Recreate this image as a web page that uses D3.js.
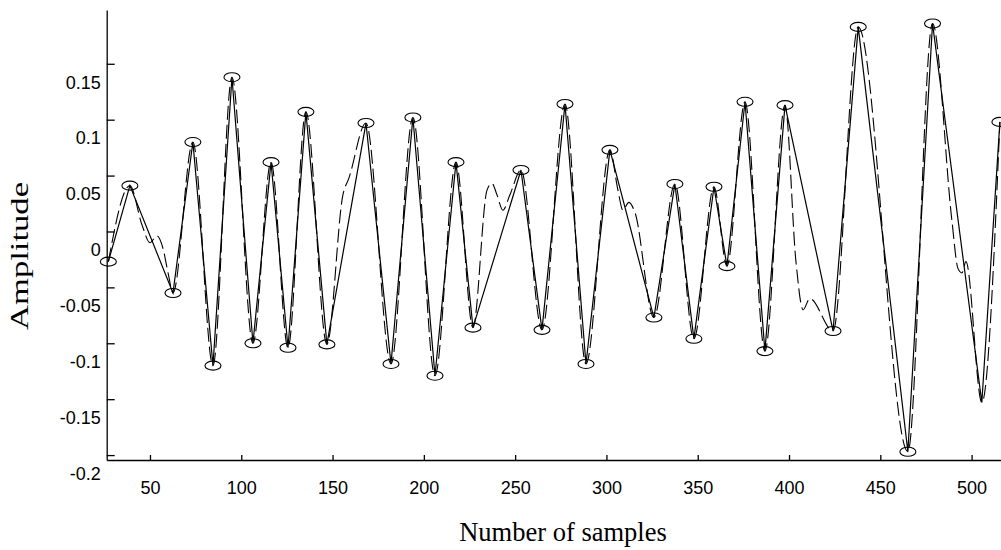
<!DOCTYPE html>
<html lang="en">
<head>
<meta charset="UTF-8">
<title>Amplitude vs number of samples</title>
<script src="https://d3js.org/d3.v7.min.js"></script>
<style>
    body { margin: 0; background: #fff; }
    .tick text { font-family: "Liberation Sans", Arial, sans-serif; font-size: 18px; fill: #000; }
    .title { font-family: "Liberation Serif", "Times New Roman", serif; font-size: 26.5px; fill: #000; }
</style>
</head>
<body>
<script>
// extrema picked from the signal (circles + solid line)
const peakSamples = [27.2, 39.0, 62.6, 73.5, 84.5, 94.9, 106.4, 116.3, 125.6, 135.4, 146.9, 168.3, 182.0, 194.0,
    206.1, 217.6, 226.9, 253.2, 264.7, 277.3, 288.8, 301.9, 326.0, 337.5, 347.9, 358.9, 366.0, 375.9, 386.8,
    397.8, 424.1, 437.9, 465.1, 478.6, 505.6, 515.5];
const peakValues = [-0.027, 0.041, -0.055, 0.080, -0.120, 0.138, -0.100, 0.062, -0.104, 0.107, -0.101, 0.097, -0.1185, 0.102,
    -0.129, 0.062, -0.086, 0.055, -0.088, 0.114, -0.1185, 0.073, -0.077, 0.0425, -0.096, 0.040, -0.031, 0.116, -0.107,
    0.113, -0.089, 0.183, -0.197, 0.186, -0.153, 0.098];
const circled = [1, 1, 1, 1, 1, 1, 1, 1, 1, 1, 1, 1, 1, 1, 1, 1, 1, 1, 1, 1, 1, 1, 1, 1, 1, 1, 1, 1, 1, 1, 1, 1, 1, 1, 0, 1];

// original signal (dashed line)
const signalSamples = [27.2, 39.0, 45.6, 50.0, 53.8, 57.1, 59.9, 62.6, 73.5, 84.5, 94.9, 106.4, 116.3, 125.6, 135.4, 146.9,
    155.7, 159.0, 168.3, 182.0, 194.0, 206.1, 217.6, 226.9, 234.6, 237.3, 240.0, 243.3, 247.2, 253.2, 264.7, 277.3,
    288.8, 301.9, 306.3, 309.0, 312.3, 315.6, 326.0, 337.5, 347.9, 358.9, 366.0, 375.9, 386.8, 397.8, 403.8, 407.7,
    411.4, 424.1, 437.9, 465.1, 478.6, 489.2, 492.5, 494.7, 496.9, 505.6, 515.5];
const signalValues = [-0.027, 0.041, 0.006, -0.010, -0.004, -0.015, -0.037, -0.055, 0.080, -0.120, 0.138, -0.100, 0.062, -0.104, 0.107, -0.101,
    0.033, 0.048, 0.097, -0.1185, 0.102, -0.129, 0.062, -0.086, 0.037, 0.043, 0.033, 0.019, 0.033, 0.055, -0.088, 0.114,
    -0.1185, 0.073, 0.037, 0.019, 0.026, 0.017, -0.077, 0.0425, -0.096, 0.040, -0.031, 0.116, -0.107, 0.113, -0.027, -0.070,
    -0.060, -0.089, 0.183, -0.197, 0.186, 0.010, -0.033, -0.037, -0.027, -0.153, 0.098];

const xTicks = [50, 100, 150, 200, 250, 300, 350, 400, 450, 500];
const yTicks = [-0.2, -0.15, -0.1, -0.05, 0, 0.05, 0.1, 0.15];
const yTickLabels = ["-0.2", "-0.15", "-0.1", "-0.05", "0", "0.05", "0.1", "0.15"];

const width = 1001, height = 550;

const x = d3.scaleLinear().domain([26.3, 516.1]).range([106.7, 1001]);
const y = d3.scaleLinear().domain([-0.2044, 0.1981]).range([460, 10]);

const svg = d3.select("body").append("svg")
    .attr("width", width)
    .attr("height", height);

// x axis
const gx = svg.append("g")
    .attr("transform", `translate(0, ${y.range()[0]})`)
    .call(d3.axisBottom(x).tickValues(xTicks).tickSize(-5).tickSizeOuter(0).tickFormat(d3.format("d")));
gx.selectAll(".tick text").attr("y", 28).attr("dy", "0.35em");

// y axis (labels sit a bit under their tick marks, like the original)
const gy = svg.append("g")
    .attr("transform", `translate(${x.range()[0]}, 0)`)
    .call(d3.axisLeft(y).tickValues(yTicks).tickSize(-8).tickSizeOuter(0).tickFormat((d, i) => yTickLabels[i]));
gy.selectAll(".tick text").attr("x", -6).attr("dy", "0.35em").attr("y", 18);

svg.selectAll(".domain, .tick line").attr("stroke", "#000").attr("stroke-width", 1.3);

const signal = signalSamples.map((s, i) => [s, signalValues[i]]);
const peaks = peakSamples.map((s, i) => [s, peakValues[i]]);

svg.append("path")
    .datum(signal)
    .attr("fill", "none")
    .attr("stroke", "#000")
    .attr("stroke-width", 1.1)
    .attr("stroke-dasharray", "14,5")
    .attr("d", d3.line().x(d => x(d[0])).y(d => y(d[1])).curve(d3.curveMonotoneX));

svg.append("path")
    .datum(peaks)
    .attr("fill", "none")
    .attr("stroke", "#000")
    .attr("stroke-width", 1.2)
    .attr("d", d3.line().x(d => x(d[0])).y(d => y(d[1])));

svg.append("g")
    .selectAll("ellipse")
    .data(peaks.filter((d, i) => circled[i]))
    .join("ellipse")
    .attr("cx", d => x(d[0]))
    .attr("cy", d => y(d[1]))
    .attr("rx", 8)
    .attr("ry", 4.5)
    .attr("fill", "none")
    .attr("stroke", "#000")
    .attr("stroke-width", 1.1);

// axis titles
svg.append("text")
    .attr("class", "title")
    .attr("x", 563)
    .attr("y", 541)
    .attr("text-anchor", "middle")
    .text("Number of samples");

svg.append("text")
    .attr("class", "title")
    .attr("transform", "translate(28, 256) rotate(-90)")
    .attr("text-anchor", "middle")
    .attr("textLength", 148)
    .attr("lengthAdjust", "spacingAndGlyphs")
    .style("font-size", "25px")
    .text("Amplitude");
</script>
</body>
</html>
